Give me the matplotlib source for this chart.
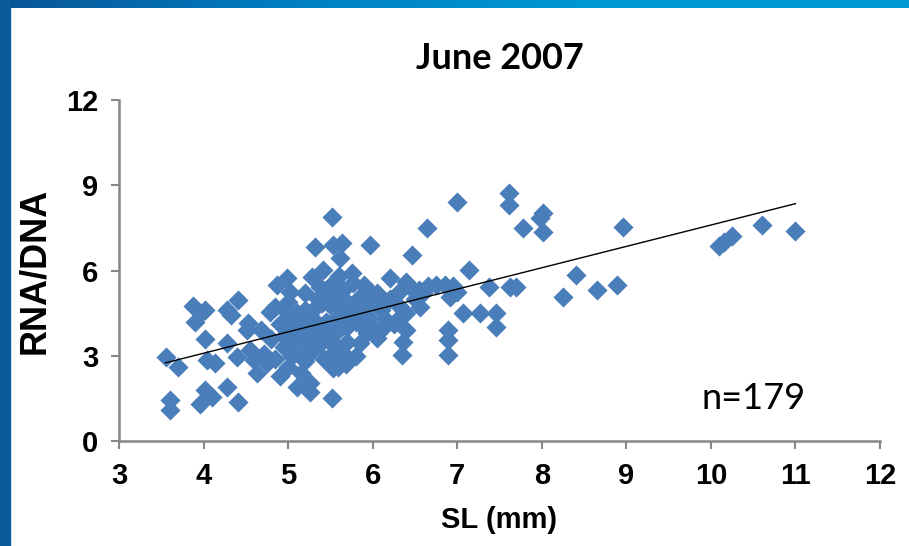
import numpy as np
import matplotlib.pyplot as plt
from matplotlib.patches import Rectangle
from matplotlib.colors import LinearSegmentedColormap

# SL (mm) vs RNA/DNA, June 2007
sl = [3.55, 3.6, 3.6, 3.7, 3.88, 3.9, 3.97, 4.02, 4.02, 3.96, 4.02, 4.1, 4.04, 4.13,
      4.28, 4.32, 4.41, 4.28, 4.28, 4.41, 4.39, 4.52, 4.51, 4.55, 4.63, 4.6,
      4.75, 4.78, 4.72, 4.8, 4.87, 4.99, 5.02, 5.0, 4.9, 4.95, 5.0, 5.05, 5.1, 5.1,
      5.15, 5.12, 4.85, 5.05, 5.18, 4.68, 4.9, 5.2,
      5.26, 5.26, 5.28, 5.32, 5.41, 5.38, 5.53, 5.52, 5.53, 5.64, 5.61, 5.52, 5.59,
      5.53, 5.3, 5.35, 5.3, 5.4, 5.45, 5.5, 5.5, 5.55, 5.6, 5.55, 5.35, 5.45, 5.25,
      5.58, 5.48, 5.4, 5.25, 5.6,
      5.77, 5.85, 5.97, 5.85, 5.93, 6.05, 5.7, 5.7, 5.65, 5.75, 5.8, 5.9, 5.95, 6.0,
      6.0, 6.1, 5.7, 5.8, 5.68, 5.9, 6.05, 5.75, 6.1, 5.85,
      6.21, 6.46, 6.64, 6.32, 6.35, 6.36, 6.4, 6.56, 6.45, 6.55, 6.65, 6.75, 6.85,
      6.95, 7.0, 6.91, 6.89, 6.89, 6.89, 6.2, 6.3, 6.15, 6.4, 6.25, 6.5, 6.3, 6.6, 6.4,
      7.0, 7.07, 7.14, 7.27, 7.38, 7.46, 7.46, 7.61, 7.61, 7.62, 7.7, 7.78, 8.01,
      8.01, 8.25, 8.41, 8.65, 8.89, 8.96, 10.1, 10.15, 10.25, 10.6, 11.0, 7.98,
      4.95, 5.05, 5.15, 5.2, 5.3, 5.38, 5.42, 5.5, 5.5, 5.62, 5.65, 5.72, 5.78, 5.88,
      5.95, 6.05, 5.0, 4.85, 5.6, 5.45, 5.2, 5.1]
rna_dna = [2.95, 1.45, 1.1, 2.6, 4.75, 4.2, 4.5, 4.6, 3.6, 1.3, 1.8, 1.55, 2.85, 2.75,
           4.6, 4.45, 4.95, 3.45, 1.9, 1.37, 2.96, 4.15, 3.9, 3.2, 2.39, 2.85,
           2.75, 4.54, 3.05, 3.6, 5.49, 5.74, 5.25, 4.5, 4.1, 3.3, 2.6, 3.0, 3.8, 1.9,
           2.4, 4.3, 2.9, 4.05, 3.4, 3.9, 2.3, 2.8,
           2.04, 1.73, 5.77, 6.83, 6.02, 5.42, 5.56, 7.89, 6.9, 6.97, 6.44, 1.51, 2.6,
           2.57, 4.6, 3.9, 3.2, 3.6, 4.2, 4.8, 3.0, 5.1, 4.4, 3.8, 5.0, 5.3, 4.0,
           3.3, 2.75, 4.85, 3.6, 5.8,
           5.56, 5.07, 6.9, 3.45, 3.8, 3.63, 4.9, 4.0, 5.3, 4.5, 4.2, 4.7, 5.3, 4.0,
           5.0, 4.6, 3.5, 3.0, 2.7, 5.5, 5.2, 5.9, 3.9, 4.4,
           5.74, 6.55, 7.5, 4.37, 3.03, 3.48, 3.9, 4.72, 5.4, 5.3, 5.45, 5.5, 5.5,
           5.45, 5.25, 5.07, 3.03, 3.56, 3.9, 5.0, 4.8, 4.3, 4.5, 4.1, 5.0, 5.2, 5.2, 5.6,
           8.4, 4.5, 6.02, 4.5, 5.42, 4.5, 4.0, 8.73, 8.31, 5.42, 5.42, 7.5, 8.03,
           7.36, 5.07, 5.84, 5.32, 5.49, 7.54, 6.85, 7.0, 7.2, 7.6, 7.4, 7.85,
           3.7, 3.5, 3.1, 4.6, 4.3, 3.4, 2.9, 4.1, 3.5, 4.0, 3.1, 4.3, 4.7, 4.0,
           4.35, 4.8, 4.9, 4.7, 4.7, 3.75, 5.2, 4.5]

# linear trend line as drawn on the chart
fit_slope = 0.752
fit_intercept = 0.08
fit_range = [3.55, 11.0]

x_ticks = [3, 4, 5, 6, 7, 8, 9, 10, 11, 12]
y_ticks = [0, 3, 6, 9, 12]

fig = plt.figure(figsize=(9.09, 5.46), dpi=100)

# slide frame (blue bands top and left)
band = fig.add_axes([0, 1 - 8 / 546, 1, 8 / 546])
grad = np.linspace(0, 1, 256).reshape(1, -1)
cm = LinearSegmentedColormap.from_list("band", ["#0a5596", "#0080c4", "#009ad6", "#0099d5"])
band.imshow(grad, aspect="auto", cmap=cm)
band.axis("off")
fig.patches.append(Rectangle((0, 0), 10 / 909, 1, transform=fig.transFigure,
                             color="#0b5a9a", zorder=0))

ax = fig.add_axes([119 / 909, 1 - 441 / 546, (880 - 119) / 909, (441 - 100) / 546])
ax.scatter(sl, rna_dna, marker="D", s=105, color="#4A7EBB", linewidths=0, zorder=3)
fx = np.array(fit_range)
ax.plot(fx, fit_slope * fx + fit_intercept, color="black", lw=1.0, zorder=4)

ax.set_xlim(3, 12)
ax.set_ylim(0, 12)
ax.set_xticks(x_ticks)
ax.set_yticks(y_ticks)
for s in ["top", "right"]:
    ax.spines[s].set_visible(False)
for s in ["left", "bottom"]:
    ax.spines[s].set_color("#878787")
    ax.spines[s].set_linewidth(1.8)
ax.tick_params(direction="out", length=6, width=1.5, color="#878787", pad=9)
for lab in ax.get_xticklabels() + ax.get_yticklabels():
    lab.set_fontfamily("Liberation Sans")
    lab.set_fontweight("bold")
    lab.set_fontsize(21)

ax.set_xlabel("SL (mm)", fontsize=21, fontweight="bold", family="Liberation Sans", labelpad=12)
ax.set_ylabel("RNA/DNA", fontsize=26, fontweight="bold", family="Liberation Sans", labelpad=10)
ax.set_title("June 2007", fontsize=26, fontweight="bold", family="Lato", pad=22)
ax.text(10.5, 1.5, "n=179", fontsize=26, family="Lato", ha="center", va="center")

fig.savefig("out.png", dpi=100)
